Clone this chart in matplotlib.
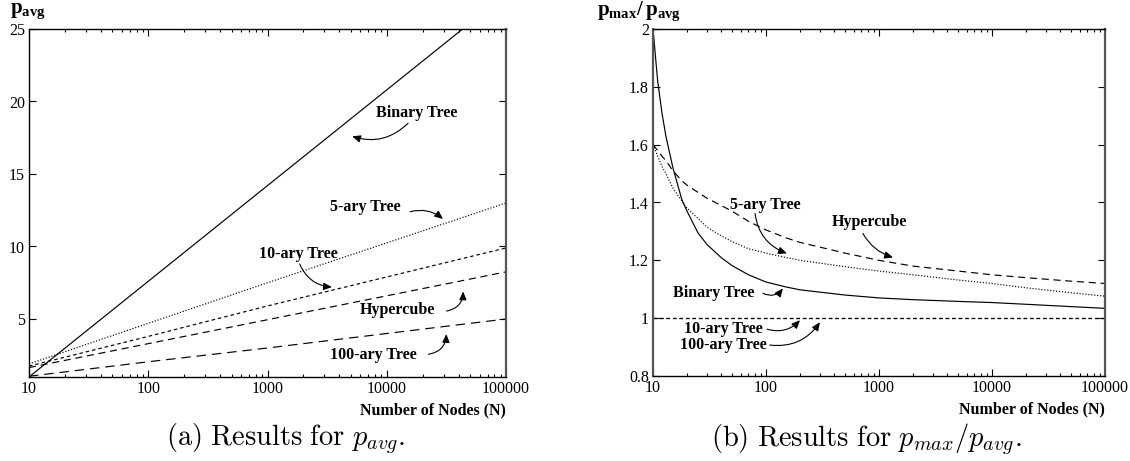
import numpy as np
import matplotlib
matplotlib.use("Agg")
import matplotlib.pyplot as plt
from matplotlib.ticker import FixedLocator, LogLocator, NullFormatter

plt.rcParams['font.family'] = ['Liberation Serif', 'DejaVu Serif']
plt.rcParams['mathtext.fontset'] = 'custom'
plt.rcParams['mathtext.rm'] = 'Liberation Serif'
plt.rcParams['mathtext.bf'] = 'Liberation Serif:bold'

# --------- data ---------

# (a) p_avg, straight lines on a log axis -> decade points
n_dec = [10, 100, 1000, 10000, 100000]
binary_avg = [1.0, 7.6, 14.2, 20.8, 27.4]
five_ary_avg = [1.9, 4.7, 7.5, 10.25, 13.0]
ten_ary_avg = [1.75, 3.8, 5.9, 7.9, 9.9]
hypercube_avg = [1.65, 3.3, 4.95, 6.6, 8.25]
hundred_ary_avg = [1.05, 2.05, 3.0, 4.0, 5.0]

# (b) p_max / p_avg
n_ratio = [10, 11, 12, 13, 15, 18, 20, 25, 30, 40, 50, 70, 100, 150, 200,
           500, 1000, 2000, 5000, 10000, 20000, 50000, 100000]
binary_ratio = [2.0, 1.82, 1.71, 1.63, 1.52, 1.41, 1.37, 1.295, 1.255, 1.21, 1.182,
                1.15, 1.125, 1.108, 1.098, 1.08, 1.07, 1.064, 1.058, 1.054, 1.048,
                1.04, 1.034]
hypercube_ratio = [1.60, 1.58, 1.56, 1.545, 1.51, 1.475, 1.46, 1.435, 1.415, 1.39,
                   1.37, 1.335, 1.305, 1.278, 1.262, 1.225, 1.20, 1.18, 1.163, 1.15,
                   1.14, 1.128, 1.12]
five_ary_ratio = [1.60, 1.56, 1.525, 1.50, 1.45, 1.405, 1.38, 1.345, 1.315, 1.285,
                  1.265, 1.24, 1.225, 1.21, 1.20, 1.178, 1.163, 1.15, 1.132, 1.12,
                  1.105, 1.088, 1.076]
n_flat = [10, 100000]
ten_ary_ratio = [1.0, 1.0]
hundred_ary_ratio = [1.0, 1.0]

xtick_vals = [10, 100, 1000, 10000, 100000]
xtick_labels = ["10", "100", "1000", "10000", "100000"]

# --------- figure ---------

W, H = 1130, 461
fig = plt.figure(figsize=(W / 100, H / 100), dpi=100)


def px_axes(x0, y0, x1, y1):
    return fig.add_axes([x0 / W, 1 - y1 / H, (x1 - x0) / W, (y1 - y0) / H])


def style_axes(ax, yticks, ylabels):
    ax.set_xscale('log')
    ax.set_xlim(10, 100000)
    ax.xaxis.set_major_locator(FixedLocator(xtick_vals))
    ax.set_xticklabels(xtick_labels)
    ax.xaxis.set_minor_locator(LogLocator(base=10, subs=np.arange(2, 10)))
    ax.xaxis.set_minor_formatter(NullFormatter())
    ax.set_yticks(yticks)
    ax.set_yticklabels(ylabels)
    ax.tick_params(which='both', direction='in', top=True, right=True,
                   labelsize=11.5, width=0.8, color='black')
    ax.tick_params(which='major', length=5, pad=3)
    ax.tick_params(which='minor', length=2.5)
    for s in ax.spines.values():
        s.set_linewidth(1.0)
        s.set_color('black')
    ax.spines['right'].set_color('#555555')
    ax.spines['right'].set_linewidth(1.6)
    ax.set_xlabel("Number of Nodes (N)", fontweight='bold', fontsize=11.5,
                  loc='right', labelpad=4)


def note(ax, text, tx, ty, tail, head, rad):
    ax.text(tx, ty, text, fontsize=11.5, fontweight='bold', ha='center', va='center')
    ax.annotate('', xy=head, xytext=tail,
                arrowprops=dict(arrowstyle='-|>,head_length=0.5,head_width=0.22',
                                connectionstyle='arc3,rad=%s' % rad,
                                color='black', lw=0.8, shrinkA=0, shrinkB=0,
                                mutation_scale=10))


lw = 0.85

# --------- (a) ---------
ax1 = px_axes(29, 29, 506, 377)
ax1.plot(n_dec, binary_avg, color='black', lw=lw, ls='-')
ax1.plot(n_dec, five_ary_avg, color='black', lw=lw, ls=(0, (1, 1.5)))
ax1.plot(n_dec, ten_ary_avg, color='black', lw=lw, ls=(0, (3, 2.5)))
ax1.plot(n_dec, hypercube_avg, color='black', lw=lw, ls=(0, (6, 4)))
ax1.plot(n_dec, hundred_ary_avg, color='black', lw=lw, ls=(0, (8, 5)))
ax1.set_ylim(1, 25)
style_axes(ax1, [5, 10, 15, 20, 25], ["5", "10", "15", "20", "25"])

note(ax1, "Binary Tree", 17950, 19.2, (15100, 18.5), (5130, 17.6), -0.3)
note(ax1, "5-ary Tree", 6640, 12.7, (15700, 12.4), (29600, 11.9), -0.25)
note(ax1, "10-ary Tree", 1800, 9.45, (1860, 8.8), (3470, 7.2), 0.3)
note(ax1, "Hypercube", 12400, 5.6, (31700, 5.55), (43700, 6.9), 0.4)
note(ax1, "100-ary Tree", 7790, 2.5, (22400, 2.57), (31600, 3.96), 0.4)

fig.text(10 / W, 1 - 12 / H, r'$\mathbf{p}_{\mathbf{avg}}$', fontsize=15,
         ha='left', va='center')

# --------- (b) ---------
ax2 = px_axes(653, 29, 1105, 376)
ax2.plot(n_ratio, binary_ratio, color='black', lw=lw, ls='-')
ax2.plot(n_ratio, five_ary_ratio, color='black', lw=lw, ls=(0, (1, 1.5)))
ax2.plot(n_ratio, hypercube_ratio, color='black', lw=lw, ls=(0, (6, 4)))
ax2.plot(n_flat, ten_ary_ratio, color='black', lw=lw, ls=(0, (3, 2.5)))
ax2.plot(n_flat, hundred_ary_ratio, color='black', lw=lw, ls=(0, (3, 2.5)))
ax2.set_ylim(0.8, 2.0)
style_axes(ax2, [0.8, 1.0, 1.2, 1.4, 1.6, 1.8, 2.0],
           ["0.8", "1", "1.2", "1.4", "1.6", "1.8", "2"])
ax2.spines['left'].set_color('#555555')
ax2.spines['left'].set_linewidth(1.6)

note(ax2, "5-ary Tree", 98, 1.39, (80, 1.362), (153, 1.224), 0.3)
note(ax2, "Hypercube", 815, 1.334, (720, 1.293), (1330, 1.21), 0.2)
note(ax2, "Binary Tree", 34.7, 1.086, (94, 1.086), (141, 1.103), 0.4)
note(ax2, "10-ary Tree", 41.6, 0.962, (102, 0.962), (200, 0.993), 0.3)
note(ax2, "100-ary Tree", 41.6, 0.907, (108, 0.907), (300, 0.986), 0.3)

fig.text(597 / W, 1 - 12 / H, r'$\mathbf{p}_{\mathbf{max}}\mathbf{/\,p}_{\mathbf{avg}}$',
         fontsize=15, ha='left', va='center')

# --------- captions ---------
fig.text(286 / W, 1 - 439 / H, r'$\mathrm{(a)\ Results\ for\ }p_{avg}.$',
         fontsize=20.5, ha='center', va='center', math_fontfamily='cm')
fig.text(866 / W, 1 - 439 / H, r'$\mathrm{(b)\ Results\ for\ }p_{max}/p_{avg}.$',
         fontsize=20.5, ha='center', va='center', math_fontfamily='cm')

fig.savefig('out.png', dpi=100)
